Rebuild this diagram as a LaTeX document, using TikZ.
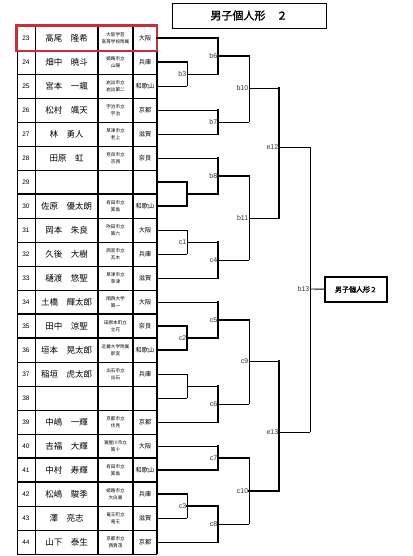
\documentclass[tikz,border=0pt]{standalone}
\usepackage{fontspec}
\setmainfont{Liberation Sans}
\newfontfamily\jp{Noto Sans CJK JP}
\newfontfamily\jpb[FakeBold=1.5]{Noto Sans CJK JP}
\definecolor{redframe}{RGB}{205,45,55}
\tikzset{
  win/.style={line width=2.6pt, line cap=rect},
  lose/.style={line width=0.9pt},
  grid/.style={line width=0.9pt},
  heavy/.style={line width=1.8pt},
  lbl/.style={anchor=east, inner sep=0.6pt, font=\fontsize{7}{7}\selectfont, text=black!80},
}
% one bout: top entry, bottom entry, bout point, styles
\newcommand{\bout}[6]{%
  \draw[#4] (#1) -- (#1 -| #3);
  \draw[#5] (#2) -- (#2 -| #3);
  \draw[#6] (#1 -| #3) -- (#2 -| #3);
}
\begin{document}
\begin{tikzpicture}[x=1pt,y=-1pt]
  \useasboundingbox (0,0) rectangle (412,556);
  % title
  \node [draw, line width=0.9pt, minimum width=154pt, minimum height=25pt,
         font=\jpb\fontsize{11}{11}\selectfont] (title) at (249,15.5) {男子個人形　２};

  % table
  \foreach \k in {0,...,22} \draw[grid] (17,26+24*\k) -- (157,26+24*\k);
  \foreach \k in {7,12,13,18,19} \draw[heavy] (17,26+24*\k) -- (157,26+24*\k);
  \draw[grid] (17,26) -- (17,554);
  \draw[line width=0.7pt] (35,26) -- (35,554);
  \draw[heavy] (98,26) -- (98,554);
  \draw[heavy] (133,26) -- (133,554);
  \draw[line width=1.2pt] (157,26) -- (157,554);
  \foreach \n/\nm/\sa/\sb/\pf [count=\i from 0] in {
      23/髙尾　隆希/大阪学芸/高等学校附属/大阪,
      24/畑中　暁斗/姫路市立/山陽/兵庫,
      25/宮本　一颯/岩出市立/岩出第二/和歌山,
      26/松村　颯天/宇治市立/宇治/京都,
      27/林　勇人/草津市立/老上/滋賀,
      28/田原　虹/奈良市立/京西/奈良,
      29/{}/{}/{}/{},
      30/佐原　優太朗/有田市立/箕島/和歌山,
      31/岡本　朱良/吹田市立/第六/大阪,
      32/久後　大樹/西宮市立/瓦木/兵庫,
      33/樋渡　悠聖/草津市立/草津/滋賀,
      34/土橋　輝太郎/関西大学/第一/大阪,
      35/田中　涼聖/田原本町立/立花/奈良,
      36/垣本　晃太郎/近畿大学附属/新宮/和歌山,
      37/稲垣　虎太郎/出石市立/出石/兵庫,
      38/{}/{}/{}/{},
      39/中嶋　一輝/京都市立/伏見/京都,
      40/吉福　大輝/寝屋川市立/第十/大阪,
      41/中村　寿輝/有田市立/箕島/和歌山,
      42/松嶋　駿季/姫路市立/大白書/兵庫,
      43/澤　亮志/竜王町立/竜王/滋賀,
      44/山下　泰生/京都市立/西賀茂/京都}{
    \node [font=\fontsize{6.5}{6.5}\selectfont] (no\n) at (26,38+24*\i) {\n};
    \node [font=\jp\fontsize{8.5}{8.5}\selectfont] (name\n) at (66.5,38+24*\i) {\nm};
    \node [align=center, inner sep=0pt, font=\jp\fontsize{4.6}{7.5}\selectfont] (school\n) at (115.5,38+24*\i) {\sa\\\sb};
    \node [inner sep=0pt, font=\jp\fontsize{6.2}{6.2}\selectfont] (pref\n) at (145,38+24*\i) {\pf};
    \coordinate (r\n) at (157,38+24*\i);
  }
  \draw[redframe, line width=2.6pt] (16.5,25.5) rectangle (157,51);

  % bout points
  \coordinate (b3) at (187,74);
  \coordinate (a29) at (187,194);
  \coordinate (c1) at (187,242);
  \coordinate (c2) at (187,338);
  \coordinate (a37) at (187,386);
  \coordinate (c3) at (187,506);
  \coordinate (b6) at (218,56);
  \coordinate (b7) at (218,122);
  \coordinate (b8) at (218,176);
  \coordinate (c4) at (218,260);
  \coordinate (c5) at (218,320);
  \coordinate (c6) at (218,404);
  \coordinate (c7) at (218,458);
  \coordinate (c8) at (218,524);
  \coordinate (b10) at (249,88);
  \coordinate (b11) at (249,218);
  \coordinate (c9) at (249,361);
  \coordinate (c10) at (249,491);
  \coordinate (e12) at (279,147);
  \coordinate (e13) at (279,432);
  \coordinate (b13) at (310,289);

  % bracket
  \bout{r24}{r25}{b3}{win}{lose}{lose}
  \bout{r29}{r30}{a29}{win}{win}{win}
  \bout{r31}{r32}{c1}{lose}{lose}{lose}
  \bout{r35}{r36}{c2}{win}{win}{win}
  \bout{r37}{r38}{a37}{lose}{lose}{lose}
  \bout{r42}{r43}{c3}{win}{lose}{lose}
  \bout{r23}{b3}{b6}{win}{lose}{win}
  \bout{r26}{r27}{b7}{lose}{lose}{win}
  \bout{r28}{a29}{b8}{lose}{win}{win}
  \bout{c1}{r33}{c4}{lose}{lose}{win}
  \bout{r34}{c2}{c5}{lose}{win}{win}
  \bout{a37}{r39}{c6}{lose}{lose}{win}
  \bout{r40}{r41}{c7}{lose}{win}{win}
  \bout{c3}{r44}{c8}{win}{lose}{win}
  \bout{b6}{b7}{b10}{win}{lose}{lose}
  \bout{b8}{c4}{b11}{win}{lose}{lose}
  \bout{c5}{c6}{c9}{win}{lose}{lose}
  \bout{c7}{c8}{c10}{win}{lose}{lose}
  \bout{b10}{b11}{e12}{lose}{lose}{win}
  \bout{c9}{c10}{e13}{lose}{win}{win}
  \bout{e12}{e13}{b13}{lose}{lose}{lose}

  \foreach \m in {b3,b6,b7,b8,b10,b11,e12,b13,c1,c2,c3,c4,c5,c6,c7,c8,c9,c10,e13}
    \node [lbl] (l\m) at (\m) {\m};

  % winner box
  \node [draw, line width=1.2pt, minimum width=62pt, minimum height=25pt,
         font=\jpb\fontsize{7}{7}\selectfont] (final) at (356,289.5) {男子個人形２};
  \draw[lose] (b13) -- (final);
\end{tikzpicture}
\end{document}
